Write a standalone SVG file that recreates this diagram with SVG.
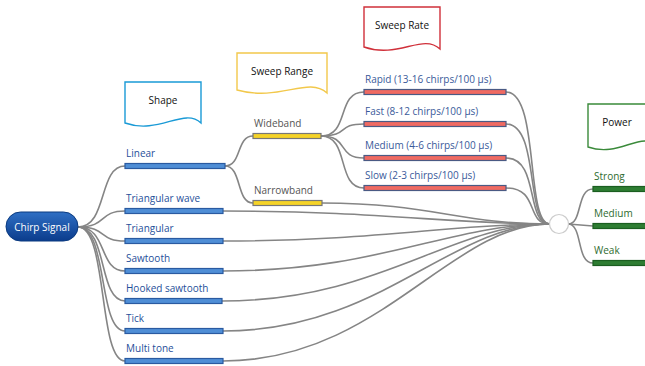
<svg xmlns="http://www.w3.org/2000/svg" width="645" height="366" viewBox="0 0 645 366">
<defs>
<linearGradient id="gRoot" x1="0" y1="0" x2="0" y2="1">
<stop offset="0" stop-color="#2f6fc4"/>
<stop offset="1" stop-color="#0b3c8c"/>
</linearGradient>
</defs>
<style>
text{font-family:"Open Sans","Noto Sans","DejaVu Sans",sans-serif;font-size:10px}
.c{fill:none;stroke:#858585;stroke-width:1.6}
.doc{fill:#fff;stroke-width:1.4}
.dt{fill:#111;text-anchor:middle}
.bs{fill:#4f8ed6;stroke:#2a5aa0;stroke-width:1.2}
.ls{fill:#1f4f9a}
.by{fill:#f5d327;stroke:#777;stroke-width:1.2}
.ly{fill:#555}
.br{fill:#f06a62;stroke:#4a5a84;stroke-width:1.2}
.lr{fill:#3a5a9a}
.bg{fill:#2e7d32;stroke:#1b5e20;stroke-width:1.2}
.lg{fill:#2e6b2e}
</style>
<g id="connectors">
<path class="c" d="M78,227 C108,227 98,166 125,166"/>
<path class="c" d="M78,227 C108,227 98,211 125,211"/>
<path class="c" d="M78,227 C108,227 98,241 125,241"/>
<path class="c" d="M78,227 C108,227 98,271 125,271"/>
<path class="c" d="M78,227 C108,227 98,301 125,301"/>
<path class="c" d="M78,227 C108,227 98,331 125,331"/>
<path class="c" d="M78,227 C108,227 98,361 125,361"/>
<path class="c" d="M225,166 C242,166 236,136 253,136"/>
<path class="c" d="M225,166 C242,166 236,203 253,203"/>
<path class="c" d="M321,136 C350,136 336,92 364,92"/>
<path class="c" d="M321,136 C350,136 336,124 364,124"/>
<path class="c" d="M321,136 C350,136 336,158 364,158"/>
<path class="c" d="M321,136 C350,136 336,188 364,188"/>
<path class="c" d="M506,92 C540,92 525,224 550,224"/>
<path class="c" d="M506,124 C540,124 525,224 550,224"/>
<path class="c" d="M506,158 C540,158 525,224 550,224"/>
<path class="c" d="M506,188 C540,188 525,224 550,224"/>
<path class="c" d="M322,203 C430,203 460,224 550,224"/>
<path class="c" d="M223,211 C380,211 450,224 550,224"/>
<path class="c" d="M223,241 C380,241 450,224 550,224"/>
<path class="c" d="M223,271 C380,271 450,224 550,224"/>
<path class="c" d="M222,301 C380,301 450,224 550,224"/>
<path class="c" d="M223,331 C380,331 450,224 550,224"/>
<path class="c" d="M223,361 C380,361 450,224 550,224"/>
<path class="c" d="M568,224 C583,224 576,189 593,189"/>
<path class="c" d="M568,224 L593,226"/>
<path class="c" d="M568,224 C583,224 576,263 593,263"/>
</g>
<g id="root">
<rect x="6" y="212" width="72" height="29" rx="14.5" fill="url(#gRoot)" stroke="#0a3a80" stroke-width="1"/>
<text x="42" y="230.5" fill="#fff" text-anchor="middle">Chirp Signal</text>
</g>
<g id="doc-shape">
<path class="doc" stroke="#1a9ad6" d="M125,82 H201 V123 C184,107 159,135 125,123 Z"/>
<text class="dt" x="163" y="104">Shape</text>
</g>
<g id="doc-sweep-range">
<path class="doc" stroke="#f2c84b" d="M237,53 H327 V93 C308,76 280,102 237,90 Z"/>
<text class="dt" x="282" y="75">Sweep Range</text>
</g>
<g id="doc-sweep-rate">
<path class="doc" stroke="#d0303a" d="M364,7 H440 V49 C423,33 398,59 364,47 Z"/>
<text class="dt" x="402" y="29">Sweep Rate</text>
</g>
<g id="doc-power">
<path class="doc" stroke="#3a8a3a" d="M588,104 H660 V146 C640,130 620,158 588,147 Z"/>
<text class="dt" x="617" y="126">Power</text>
</g>
<g id="linear"><rect class="bs" x="125" y="163.5" width="100" height="5"/><text class="ls" x="126" y="157">Linear</text></g>
<g id="triangular-wave"><rect class="bs" x="125" y="208.5" width="98" height="5"/><text class="ls" x="126" y="202">Triangular wave</text></g>
<g id="triangular"><rect class="bs" x="125" y="238.5" width="98" height="5"/><text class="ls" x="126" y="232">Triangular</text></g>
<g id="sawtooth"><rect class="bs" x="125" y="268.5" width="98" height="5"/><text class="ls" x="126" y="262">Sawtooth</text></g>
<g id="hooked-sawtooth"><rect class="bs" x="125" y="298.5" width="97" height="5"/><text class="ls" x="126" y="292">Hooked sawtooth</text></g>
<g id="tick"><rect class="bs" x="125" y="328.5" width="98" height="5"/><text class="ls" x="126" y="322">Tick</text></g>
<g id="multi-tone"><rect class="bs" x="125" y="358.5" width="98" height="5"/><text class="ls" x="126" y="352">Multi tone</text></g>
<g id="wideband"><rect class="by" x="253" y="133.5" width="68" height="5"/><text class="ly" x="254" y="127">Wideband</text></g>
<g id="narrowband"><rect class="by" x="253" y="200.5" width="69" height="5"/><text class="ly" x="254" y="194">Narrowband</text></g>
<g id="rapid"><rect class="br" x="364" y="89.5" width="142" height="5"/><text class="lr" x="365" y="83">Rapid (13-16 chirps/100 μs)</text></g>
<g id="fast"><rect class="br" x="364" y="121.5" width="142" height="5"/><text class="lr" x="365" y="115">Fast (8-12 chirps/100 μs)</text></g>
<g id="medium-rate"><rect class="br" x="364" y="155.5" width="142" height="5"/><text class="lr" x="365" y="149">Medium (4-6 chirps/100 μs)</text></g>
<g id="slow"><rect class="br" x="364" y="185.5" width="142" height="5"/><text class="lr" x="365" y="179">Slow (2-3 chirps/100 μs)</text></g>
<g id="hub"><circle cx="559" cy="224" r="9.5" fill="#fff" stroke="#cccccc" stroke-width="1.2"/></g>
<g id="strong"><rect class="bg" x="593" y="186.5" width="56" height="5"/><text class="lg" x="594" y="180">Strong</text></g>
<g id="medium-power"><rect class="bg" x="593" y="223.5" width="56" height="5"/><text class="lg" x="594" y="217">Medium</text></g>
<g id="weak"><rect class="bg" x="593" y="260.5" width="56" height="5"/><text class="lg" x="594" y="254">Weak</text></g>
</svg>
